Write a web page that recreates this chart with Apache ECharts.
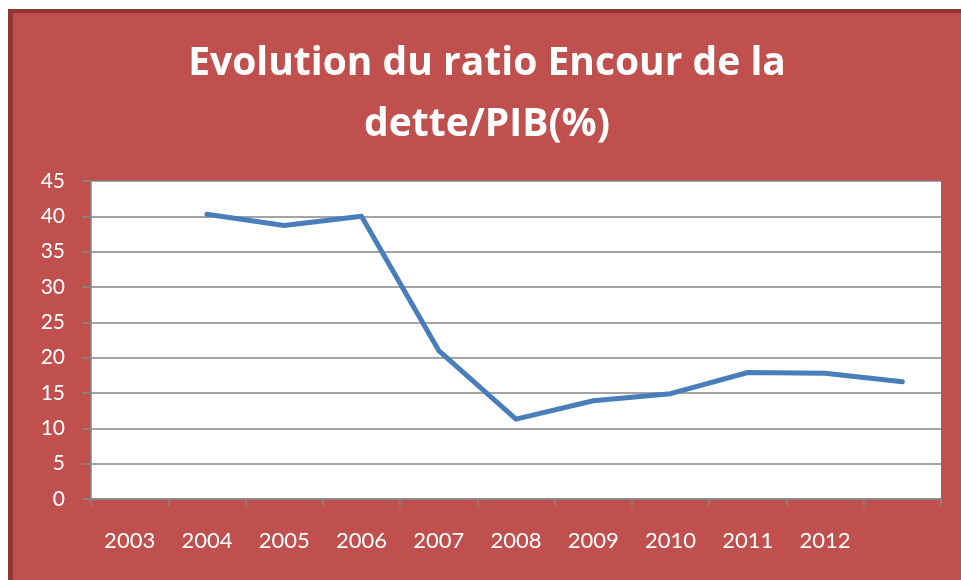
<!DOCTYPE html>
<html>
<head>
<meta charset="utf-8">
<script src="https://cdn.jsdelivr.net/npm/echarts@6/dist/echarts.min.js"></script>
<style>
    html, body { margin: 0; padding: 0; background: #fff; }
    #frame {
        position: absolute; left: 8px; top: 9px;
        width: 948px; height: 567px;
        border-left: 5px solid #943634; border-top: 4px solid #943634;
    }
    #main { width: 948px; height: 567px; }
</style>
</head>
<body>
<div id="frame"><div id="main"></div></div>
<script>
// categories (the last slot has no label in the original)
const years = ['2003', '2004', '2005', '2006', '2007', '2008', '2009', '2010', '2011', '2012', ''];
// ratio encours de la dette / PIB (%)
const ratio = [null, 40.3, 38.7, 40.0, 21.0, 11.3, 13.9, 14.9, 17.9, 17.8, 16.6];
const yTicks = { min: 0, max: 45, interval: 5 };

const myChart = echarts.init(document.getElementById('main'));
const font = 'Lato, "Open Sans", sans-serif';

const option = {
    backgroundColor: '#C0504D',
    animation: false,
    title: {
        text: 'Evolution du ratio Encour de la\ndette/PIB(%)',
        left: 'center',
        top: 15,
        textStyle: {
            color: '#fff',
            fontFamily: '"Open Sans", sans-serif',
            fontWeight: 'bold',
            fontSize: 39,
            lineHeight: 61,
        },
    },
    grid: {
        left: 78,
        right: 20,
        top: 168,
        bottom: 81,
        show: true,
        backgroundColor: '#fff',
        borderWidth: 0,
    },
    xAxis: {
        type: 'category',
        data: years,
        boundaryGap: true,
        axisLine: { lineStyle: { color: '#868686', width: 1.5 } },
        axisTick: { show: true, length: 7, lineStyle: { color: '#868686', width: 1.5 } },
        axisLabel: {
            color: '#fff',
            fontFamily: font,
            fontSize: 22,
            margin: 31,
            interval: 0,
        },
    },
    yAxis: {
        type: 'value',
        min: yTicks.min,
        max: yTicks.max,
        interval: yTicks.interval,
        axisLine: { show: true, lineStyle: { color: '#868686', width: 1.5 } },
        axisTick: { show: true, inside: false, length: 9, lineStyle: { color: '#868686', width: 1.5 } },
        axisLabel: {
            color: '#fff',
            fontFamily: font,
            fontSize: 21,
            margin: 26,
        },
        splitLine: { lineStyle: { color: '#868686', width: 1.5 } },
    },
    series: [
        {
            type: 'line',
            data: ratio,
            symbol: 'none',
            connectNulls: false,
            lineStyle: { color: '#4A7EBB', width: 5, cap: 'round', join: 'round' },
        },
    ],
};
myChart.setOption(option);
</script>
</body>
</html>
